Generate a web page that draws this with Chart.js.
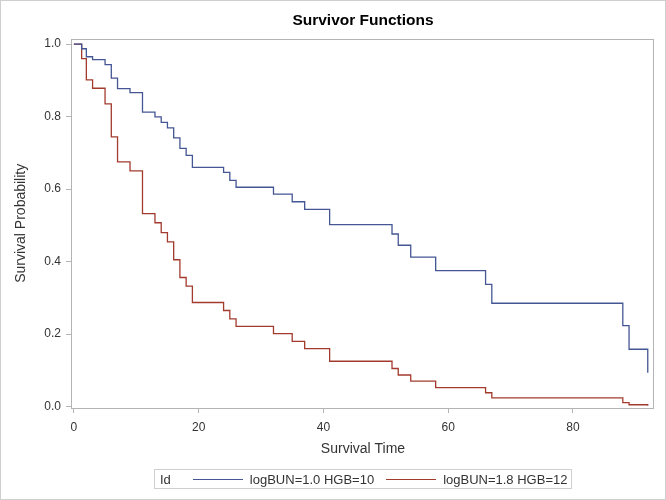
<!DOCTYPE html>
<html>
<head>
<meta charset="utf-8">
<script src="https://cdn.jsdelivr.net/npm/chart.js@4"></script>
<style>
  body { margin: 0; background: #fff; }
  #wrap { position: relative; width: 666px; height: 500px; }
  #frame { position: absolute; left: 0; top: 0; width: 664px; height: 498px; border: 1px solid #cfcfcf; pointer-events: none; }
  #legend {
    position: absolute; left: 154px; top: 469px; width: 416px; height: 18px;
    border: 1px solid #cfcfcf; display: flex; align-items: center;
    font: 13px "Liberation Sans", Arial, sans-serif; color: #333; white-space: nowrap;
  }
  #legend .swatch { display: inline-block; width: 50px; height: 1px; margin: 1px 7px 0 0; }
</style>
</head>
<body>
<div id="wrap">
  <canvas id="myChart" width="666" height="500"></canvas>
  <div id="frame"></div>
  <div id="legend"></div>
</div>
<script>
// event times (shared by both curves)
let times = [0, 1.25, 2, 3, 5, 6, 7, 9, 11, 13, 14, 15, 16, 17, 18, 19, 24, 25, 26,
  32, 35, 37, 41, 51, 52, 54, 58, 66, 67, 88, 89, 92];

let survLow = [1.0, 0.987, 0.965, 0.957, 0.943, 0.906, 0.877, 0.866, 0.812, 0.799, 0.784,
  0.769, 0.741, 0.712, 0.693, 0.660, 0.646, 0.624, 0.605, 0.586, 0.565, 0.544, 0.502,
  0.476, 0.445, 0.412, 0.375, 0.337, 0.285, 0.223, 0.158, 0.093];

let survHigh = [1.0, 0.960, 0.901, 0.878, 0.835, 0.744, 0.675, 0.650, 0.532, 0.507, 0.480,
  0.454, 0.405, 0.356, 0.332, 0.287, 0.265, 0.242, 0.221, 0.201, 0.180, 0.160, 0.125,
  0.105, 0.087, 0.070, 0.052, 0.038, 0.024, 0.011, 0.005, 0.002];

let groupNames = ["logBUN=1.0 HGB=10", "logBUN=1.8 HGB=12"];
let groupColors = ["#445694", "#A23A2E"];

let xTicks = [0, 20, 40, 60, 80];
let yTicks = [0.0, 0.2, 0.4, 0.6, 0.8, 1.0];

const axisGray = "#b4b4b4";
const fontFam = '"Liberation Sans", Arial, sans-serif';

function toPoints(ys) {
  return times.map((t, i) => ({ x: t, y: ys[i] }));
}

const frame = {
  id: "frame",
  afterDraw(chart) {
    const { ctx, chartArea: a } = chart;
    ctx.save();
    ctx.strokeStyle = axisGray;
    ctx.lineWidth = 1;
    ctx.strokeRect(Math.round(a.left) - 0.5, Math.round(a.top) + 0.5,
      Math.round(a.right - a.left), Math.round(a.bottom - a.top));
    ctx.restore();
  },
};

let chart = new Chart(document.getElementById("myChart"), {
  type: "line",
  data: {
    datasets: [
      { label: groupNames[0], data: toPoints(survLow), borderColor: groupColors[0] },
      { label: groupNames[1], data: toPoints(survHigh), borderColor: groupColors[1] },
    ].map((d) => Object.assign(d, { stepped: "before", borderWidth: 1.3, pointRadius: 0, fill: false })),
  },
  options: {
    responsive: false,
    animation: false,
    layout: { padding: { left: 0, right: 12, top: 0, bottom: 38 } },
    plugins: {
      legend: { display: false },
      tooltip: { enabled: false },
      title: {
        display: true,
        text: "Survivor Functions",
        fullSize: false,
        color: "#000",
        font: { family: fontFam, size: 15.5, weight: "bold" },
        padding: { top: 11, bottom: 9 },
      },
    },
    scales: {
      x: {
        type: "linear",
        min: -0.3,
        max: 93,
        afterFit: (s) => { s.height = 54; },
        afterBuildTicks: (s) => { s.ticks = xTicks.map((v) => ({ value: v })); },
        ticks: { color: "#333", font: { family: fontFam, size: 12 }, padding: 7, maxRotation: 0 },
        grid: { drawOnChartArea: false, drawTicks: true, tickLength: 5, color: axisGray },
        border: { display: false },
        title: {
          display: true, text: "Survival Time", color: "#333",
          font: { family: fontFam, size: 14 }, padding: { top: 0, bottom: 4 },
        },
      },
      y: {
        min: -0.004,
        max: 1.015,
        afterFit: (s) => { s.width = 72; },
        afterBuildTicks: (s) => { s.ticks = yTicks.map((v) => ({ value: v })); },
        ticks: {
          color: "#333", font: { family: fontFam, size: 12 }, padding: 5,
          callback: (v) => Number(v).toFixed(1),
        },
        grid: { drawOnChartArea: false, drawTicks: true, tickLength: 6, color: axisGray },
        border: { display: false },
        title: {
          display: true, text: "Survival Probability", color: "#333",
          font: { family: fontFam, size: 14 }, padding: { top: 13, bottom: 0 },
        },
      },
    },
  },
  plugins: [frame],
});

// legend row like the SAS one: "Id" then a line sample per group
const legend = document.getElementById("legend");
let html = '<span style="margin:0 22px 0 5px">Id</span>';
groupNames.forEach((name, i) => {
  html += '<span class="swatch" style="background:' + groupColors[i] + '"></span>';
  html += '<span style="margin-right:' + (i === 0 ? 12 : 0) + 'px">' + name + "</span>";
});
legend.innerHTML = html;
</script>
</body>
</html>
